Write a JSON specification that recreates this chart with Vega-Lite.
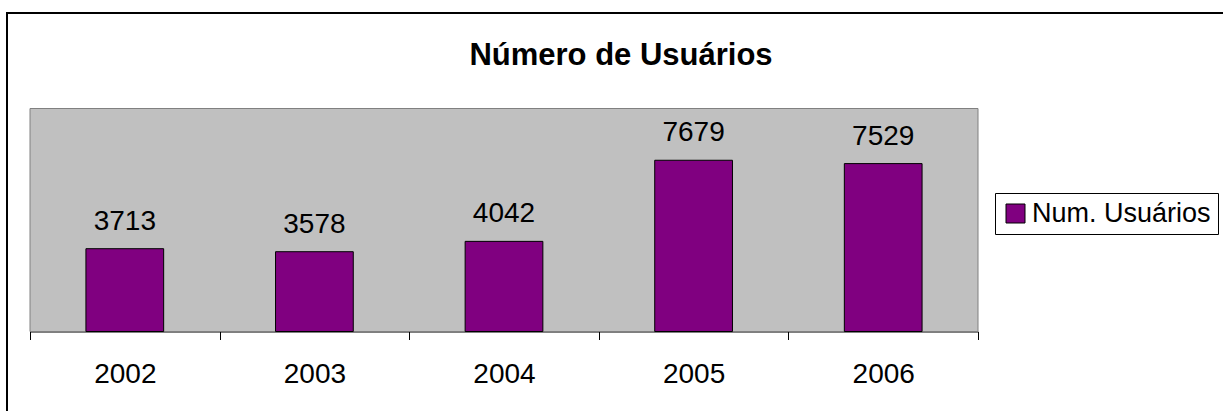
{
  "$schema": "https://vega.github.io/schema/vega-lite/v6.json",
  "autosize": {"type": "none"},
  "padding": {"left": 7, "top": 13, "right": -6, "bottom": -6},
  "width": 1222,
  "height": 404,
  "background": "white",
  "config": {
    "view": {"stroke": "black", "strokeWidth": 2, "fill": null},
    "font": "Liberation Sans"
  },
  "title": {
    "text": "Número de Usuários",
    "font": "Liberation Sans",
    "fontSize": 31,
    "fontWeight": "bold",
    "color": "black",
    "anchor": "middle",
    "frame": "group",
    "baseline": "alphabetic",
    "offset": -83,
    "dx": 3
  },
  "resolve": {"scale": {"x": "independent"}},
  "layer": [
    {
      "data": {"values": [{}]},
      "mark": {"type": "rect", "fill": "#C0C0C0", "stroke": "#808080", "strokeWidth": 1},
      "encoding": {
        "x": {"datum": 0, "type": "quantitative", "scale": {"domain": [0, 1], "range": [23, 971], "nice": false, "zero": false}, "axis": null},
        "x2": {"datum": 1},
        "y": {"datum": 0, "type": "quantitative", "scale": {"domain": [0, 10000], "range": [318.5, 95.5], "nice": false}, "axis": null},
        "y2": {"datum": 10000}
      }
    },
    {
      "data": {
        "values": [
          {"ano": "2002", "usuarios": 3713},
          {"ano": "2003", "usuarios": 3578},
          {"ano": "2004", "usuarios": 4042},
          {"ano": "2005", "usuarios": 7679},
          {"ano": "2006", "usuarios": 7529}
        ]
      },
      "encoding": {
        "x": {
          "field": "ano",
          "type": "ordinal",
          "scale": {"range": [23, 971], "paddingInner": 0, "paddingOuter": 0},
          "axis": {
            "title": null,
            "orient": "bottom",
            "offset": -85.5,
            "domainColor": "black",
            "domainWidth": 1,
            "tickColor": "black",
            "tickSize": 8,
            "tickBand": "extent",
            "labelFont": "Liberation Sans",
            "labelFontSize": 28,
            "labelColor": "black",
            "labelBaseline": "alphabetic",
            "labelPadding": 42.5,
            "labelAngle": 0,
            "grid": false
          }
        },
        "y": {
          "field": "usuarios",
          "type": "quantitative",
          "scale": {"domain": [0, 10000], "range": [318.5, 95.5], "nice": false},
          "axis": null
        }
      },
      "layer": [
        {
          "mark": {"type": "bar", "stroke": "black", "strokeWidth": 1, "width": {"band": 0.41}},
          "encoding": {
            "color": {
              "datum": "Num. Usuários",
              "type": "nominal",
              "scale": {"range": ["#800080"]},
              "legend": {
                "title": null,
                "orient": "none",
                "legendX": 988,
                "legendY": 180,
                "strokeColor": "black",
                "fillColor": "white",
                "padding": 7,
                "symbolType": "square",
                "symbolSize": 361,
                "symbolStrokeColor": "black",
                "symbolStrokeWidth": 1,
                "labelFont": "Liberation Sans",
                "labelFontSize": 27,
                "labelColor": "black",
                "labelOffset": 3,
                "labelLimit": 400
              }
            }
          }
        },
        {
          "mark": {"type": "text", "baseline": "alphabetic", "dy": -19, "fontSize": 28, "font": "Liberation Sans", "color": "black"},
          "encoding": {
            "text": {"field": "usuarios", "type": "quantitative"}
          }
        }
      ]
    }
  ]
}
